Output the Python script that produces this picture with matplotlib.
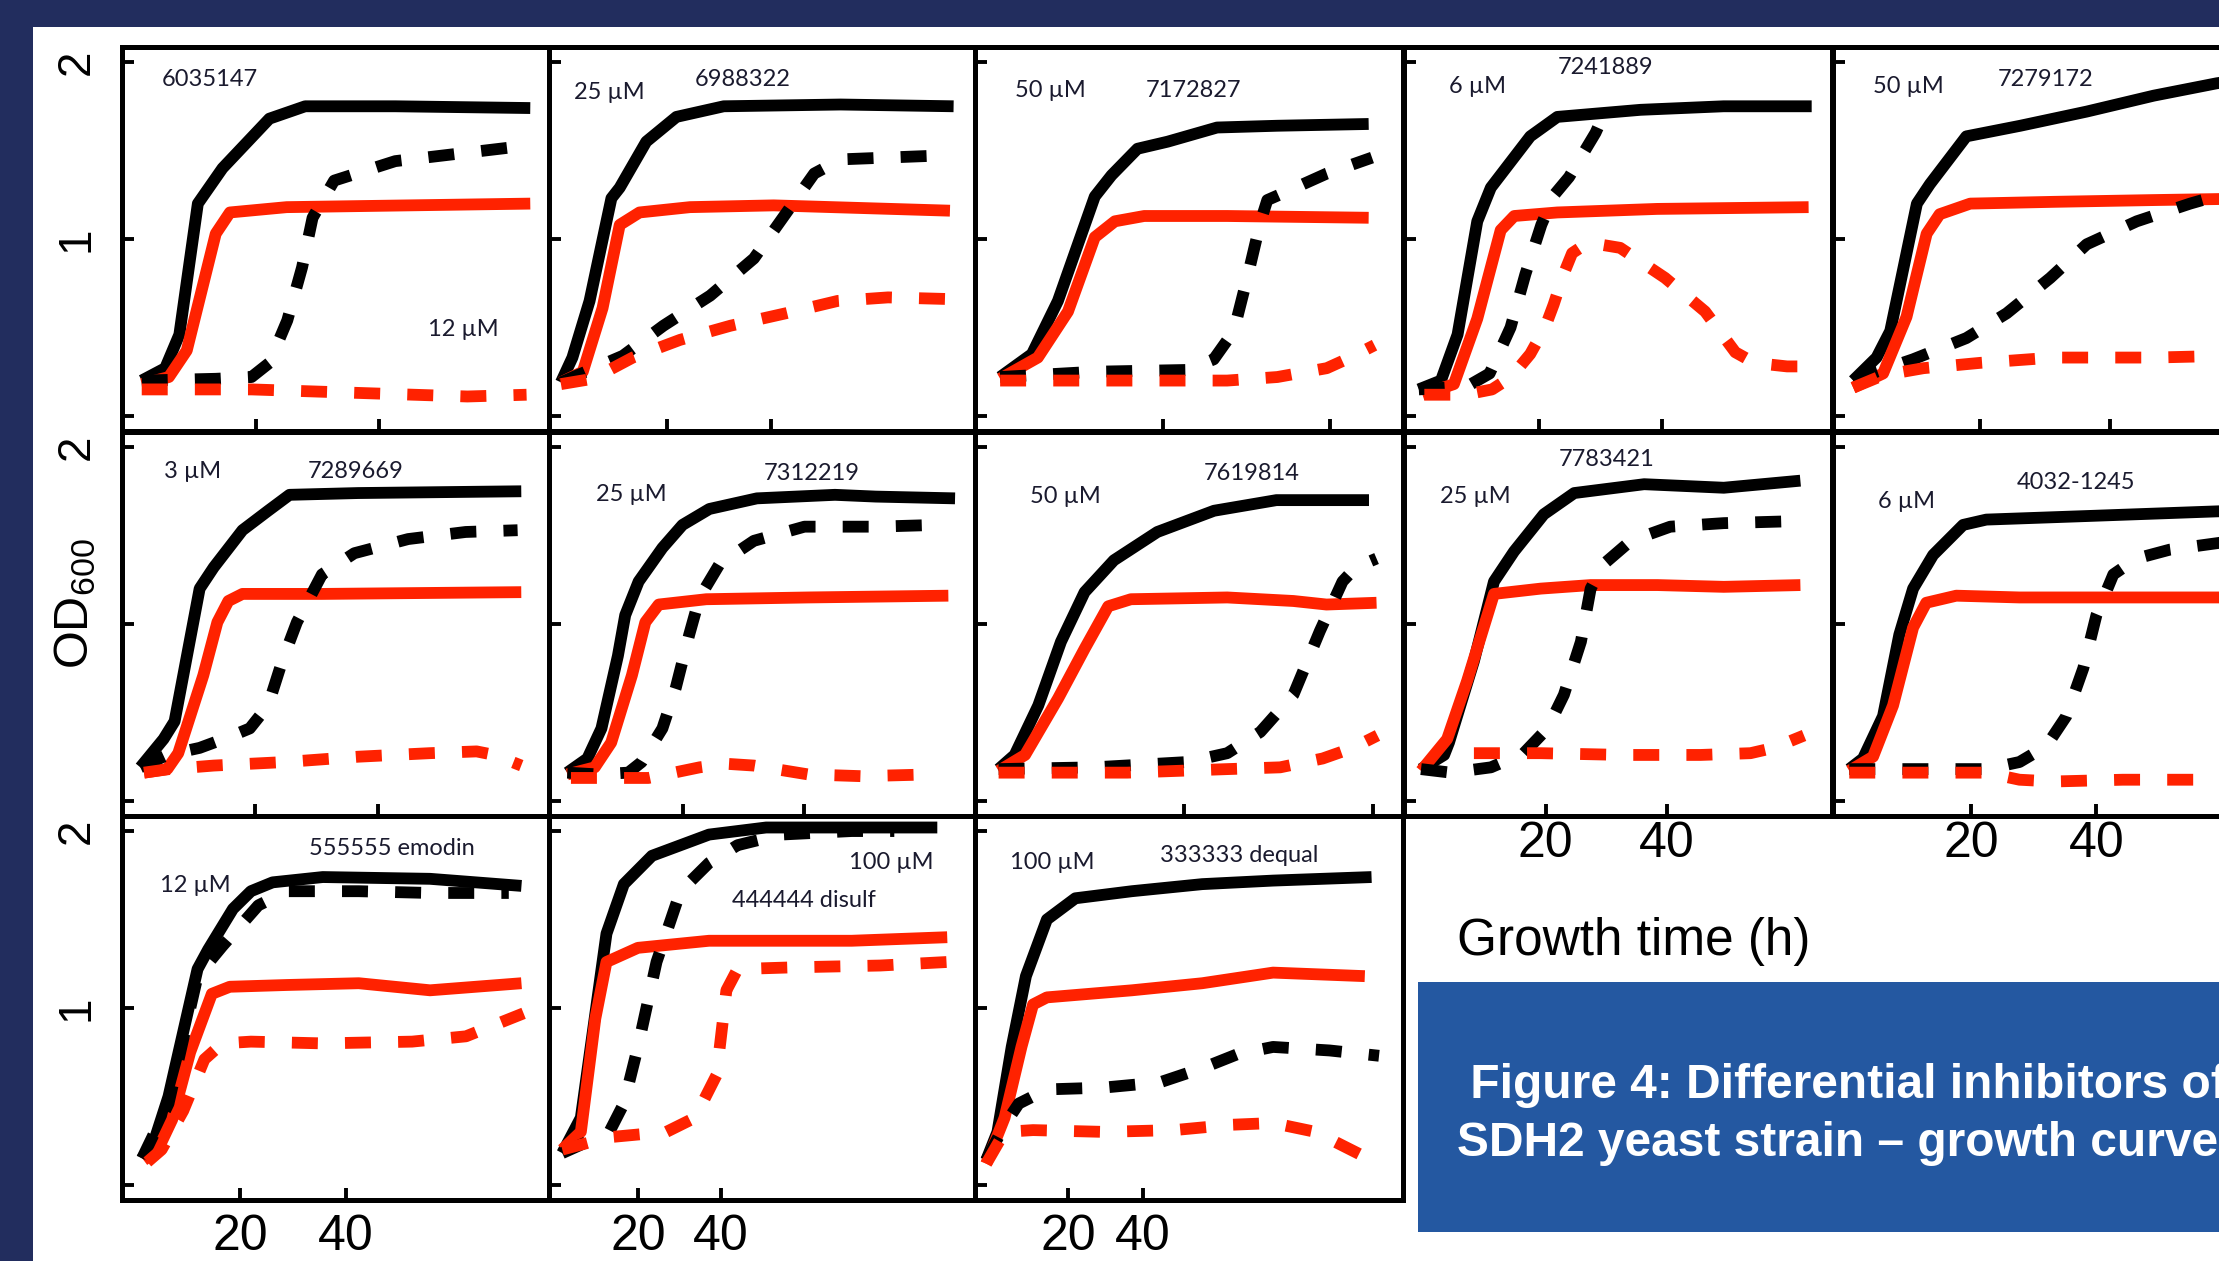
import matplotlib.pyplot as plt
from matplotlib.patches import Rectangle

plt.rcParams["font.family"] = ["Liberation Sans", "DejaVu Sans"]
plt.rcParams["mathtext.default"] = "regular"

NAVY = "#222d5e"
BLUE = "#2458a1"
RED = "#ff2200"
INK = "#1a1a2e"

# ---------------- growth curves, (time h, OD600) ----------------
# black solid / red solid = no compound, black dashed / red dashed = with compound

# 6035147
p00_k = [(1.5, .20), (5.3, .27), (7.6, .46), (10.6, 1.20), (14.6, 1.40), (22.2, 1.68), (28, 1.75), (42.6, 1.75), (64.5, 1.74)]
p00_r = [(1.5, .18), (5.9, .22), (8.8, .37), (13.5, 1.03), (15.8, 1.15), (25, 1.18), (64.5, 1.20)]
p00_kd = [(1.5, .20), (13.5, .21), (19.3, .22), (22.2, .30), (25.1, .54), (27.5, .84), (29.2, 1.12), (32.7, 1.33), (42.6, 1.44), (62, 1.52)]
p00_rd = [(1.5, .15), (19.3, .15), (36.8, .13), (54.3, .11), (63.9, .12)]

# 6988322
p01_k = [(-0.3, .19), (1.9, .33), (5.2, .65), (9.4, 1.23), (11, 1.29), (16.1, 1.55), (21.9, 1.69), (31, 1.75), (53.5, 1.76), (75.2, 1.75)]
p01_r = [(-0.3, .19), (3.9, .25), (7.7, .61), (11, 1.08), (14.8, 1.15), (24.5, 1.18), (40.6, 1.19), (74.5, 1.16)]
p01_kd = [(-0.3, .19), (11.6, .34), (19.4, .51), (28.4, .68), (36.8, .89), (42.6, 1.13), (48.4, 1.37), (53.5, 1.45), (71, 1.47)]
p01_rd = [(-0.3, .18), (5.8, .21), (13.5, .33), (22.6, .43), (32.3, .51), (42.9, .58), (52.9, .65), (62.6, .67), (75.2, .66)]

# 7172827
p02_k = [(0.6, .22), (4.4, .35), (7.5, .65), (11.9, 1.24), (13.9, 1.36), (17, 1.51), (20.6, 1.55), (26.5, 1.63), (33.7, 1.64), (44.6, 1.65)]
p02_r = [(0.6, .21), (5.1, .33), (8.7, .59), (11.9, 1.01), (14.3, 1.10), (17.8, 1.13), (27.7, 1.13), (44.6, 1.12)]
p02_kd = [(0.6, .22), (11.9, .25), (23, .26), (26.1, .32), (28.5, .48), (30.1, .78), (31.7, 1.10), (32.5, 1.22), (34.9, 1.27), (39.6, 1.37), (45, 1.46)]
p02_rd = [(0.6, .20), (13.9, .20), (27.7, .20), (33.7, .22), (39.6, .27), (42.4, .33), (45.3, .40)]

# 7241889
p03_k = [(0.5, .15), (4.1, .20), (6.8, .46), (10, 1.10), (12.2, 1.29), (18.6, 1.58), (23, 1.69), (36.5, 1.73), (50, 1.75), (64.3, 1.75)]
p03_r = [(1.1, .12), (6.2, .18), (10, .55), (13.8, 1.05), (16, 1.13), (23, 1.15), (39.2, 1.17), (63.8, 1.18)]
p03_kd = [(0.5, .15), (5, .16), (9, .18), (12, .24), (15.4, .50), (17.8, .80), (20.4, 1.08), (22.5, 1.25), (24.9, 1.35), (29.2, 1.60), (30.5, 1.70)]
p03_rd = [(1.4, .12), (8, .12), (12.4, .15), (15.5, .22), (18.6, .35), (21, .50), (22.4, .63), (24, .80), (25.4, .92), (28, .98),
          (33.2, .95), (40.5, .78), (47, .59), (51.9, .36), (55, .30), (60.3, .28), (62.5, .28)]

# 7279172
p04_k = [(0.5, .20), (4.1, .33), (6.2, .48), (10.3, 1.20), (12.3, 1.31), (17.9, 1.58), (26.2, 1.64), (36.4, 1.72), (46.7, 1.81), (56.4, 1.88), (64, 1.92)]
p04_r = [(0.5, .16), (5.1, .24), (8.7, .56), (11.8, 1.03), (13.8, 1.14), (18.5, 1.20), (31.3, 1.21), (46.7, 1.22), (64, 1.23)]
p04_kd = [(0.5, .20), (4.1, .25), (9.7, .32), (17.9, .44), (24.1, .58), (30.8, .78), (36.4, .97), (44.1, 1.10), (52.3, 1.20), (58, 1.26)]
p04_rd = [(0.5, .16), (5.1, .23), (11.3, .27), (20, .30), (31.3, .33), (46.7, .33), (58, .34)]

# 7289669
p10_k = [(1.2, .19), (5, .35), (6.8, .45), (10.9, 1.20), (13.2, 1.32), (17.9, 1.53), (22.1, 1.64), (25.6, 1.73), (36.8, 1.74), (63.5, 1.75)]
p10_r = [(1.8, .16), (5.6, .18), (7.4, .27), (11.5, .71), (13.8, 1.01), (15.6, 1.13), (17.9, 1.17), (30.9, 1.17), (63.5, 1.18)]
p10_kd = [(1.2, .19), (5.6, .26), (10.9, .30), (15.6, .36), (19.1, .41), (22.1, .54), (24.4, .79), (26.8, 1.01), (30.9, 1.28),
          (36.2, 1.40), (45, 1.48), (54.4, 1.52), (62.9, 1.53)]
p10_rd = [(1.8, .16), (5.9, .18), (13.2, .20), (24.9, .22), (36.8, .25), (48.5, .27), (56.2, .28), (59.1, .26), (63.5, .20)]

# 7312219
p11_k = [(1.1, .16), (4.4, .24), (6.7, .41), (9.4, .82), (10.6, 1.05), (12.8, 1.24), (16.7, 1.43), (20, 1.56), (24.4, 1.65),
         (32.2, 1.71), (45, 1.73), (51.7, 1.72), (64.7, 1.71)]
p11_r = [(1.1, .15), (5.6, .19), (8.3, .33), (11.7, .71), (13.9, 1.01), (16.1, 1.11), (23.9, 1.14), (40.6, 1.15), (63.6, 1.16)]
p11_kd = [(1.1, .16), (6.1, .15), (11.1, .16), (13.3, .22), (16.7, .41), (18.9, .64), (21.1, .94), (22.8, 1.15), (26.1, 1.34),
          (31.7, 1.47), (40, 1.55), (51.7, 1.55), (61.7, 1.56)]
p11_rd = [(1.7, .13), (10, .13), (14.4, .13), (22.8, .19), (27.2, .21), (31.7, .20), (40.6, .15), (49.4, .14), (60.6, .15)]

# 7619814
p12_k = [(0.4, .18), (2.1, .26), (4.6, .54), (7, .90), (9.5, 1.18), (12.6, 1.36), (17.2, 1.52), (23.2, 1.64), (29.8, 1.70), (39.6, 1.70)]
p12_r = [(0.4, .17), (3.2, .26), (6.7, .58), (9.5, .86), (12, 1.10), (14.4, 1.14), (24.6, 1.15), (31.6, 1.13), (35.1, 1.11), (40.4, 1.12)]
p12_kd = [(0.4, .18), (10.5, .19), (20.4, .22), (24.6, .27), (28.1, .39), (31.6, .60), (34.4, .96), (36.8, 1.24), (38.2, 1.32), (40.4, 1.37)]
p12_rd = [(0.4, .16), (14, .16), (24.6, .18), (30.2, .19), (34.7, .24), (37.9, .30), (40.5, .37)]

# 7783421
p13_k = [(-0.5, .18), (3.3, .26), (4.1, .33), (8.2, .79), (11.5, 1.24), (14.8, 1.41), (19.7, 1.62), (24.7, 1.74), (36.2, 1.79),
         (49.3, 1.77), (61.9, 1.81)]
p13_r = [(-0.5, .17), (3.8, .35), (7.1, .68), (11.5, 1.17), (19.2, 1.20), (27.4, 1.22), (38.4, 1.22), (49.3, 1.21), (61.9, 1.22)]
p13_kd = [(-0.5, .18), (4.4, .16), (11, .19), (16.4, .27), (20.3, .41), (23, .60), (25.8, .90), (27.4, 1.20), (29.6, 1.34),
          (34, 1.47), (40.5, 1.55), (49.3, 1.57), (59.7, 1.58)]
p13_rd = [(8.2, .27), (19.2, .27), (32.9, .26), (45.5, .26), (53.7, .27), (57.5, .30), (62.5, .37)]

# 4032-1245
p14_k = [(0.5, .18), (2.7, .24), (5.9, .48), (8.5, .94), (10.7, 1.20), (13.9, 1.39), (18.7, 1.56), (22.4, 1.59), (38.4, 1.61), (62, 1.64)]
p14_r = [(0.5, .17), (4.3, .25), (7.5, .54), (10.7, .98), (12.8, 1.12), (17.6, 1.16), (27.7, 1.15), (49.1, 1.15), (62, 1.15)]
p14_kd = [(0.5, .18), (11.7, .18), (22.4, .18), (27.7, .22), (32, .31), (35.2, .48), (37.9, .75), (40, 1.05), (42.7, 1.28),
          (46.4, 1.37), (51.7, 1.42), (62, 1.47)]
p14_rd = [(0.5, .16), (11.7, .16), (22.4, .16), (27.7, .12), (33.1, .11), (44.2, .12), (62, .12)]

# 555555 emodin
p20_k = [(1.4, .15), (3.7, .25), (6.4, .50), (11.9, 1.22), (13.9, 1.33), (18.6, 1.56), (22, 1.66), (26.1, 1.71), (35.6, 1.74),
         (55.9, 1.73), (73.2, 1.69)]
p20_r = [(1.7, .14), (4.4, .20), (7.1, .37), (10.5, .75), (14.6, 1.08), (18, 1.12), (28.8, 1.13), (42.4, 1.14), (55.9, 1.10), (73.2, 1.14)]
p20_kd = [(1.4, .15), (6.4, .46), (11.9, 1.18), (16.6, 1.35), (23.4, 1.58), (28.8, 1.66), (42.4, 1.66), (55.9, 1.65), (70.8, 1.65)]
p20_rd = [(2.4, .13), (5.1, .20), (9.2, .42), (13.2, .71), (16.6, .80), (22, .81), (35.6, .80), (52.5, .81), (62.7, .84), (73.6, .97)]

# 444444 disulf
p21_k = [(1.7, .18), (6.2, .38), (12.4, 1.42), (16.6, 1.70), (23.4, 1.86), (37.2, 1.98), (51, 2.02), (92.4, 2.02)]
p21_r = [(1.7, .20), (6.2, .30), (9.7, .94), (12.4, 1.26), (20, 1.34), (37.2, 1.38), (71.7, 1.38), (94.8, 1.40)]
p21_kd = [(1.7, .18), (13.1, .30), (16.6, .46), (20, .78), (24.5, 1.26), (30.3, 1.66), (37.2, 1.82), (44.1, 1.92), (54.5, 1.98),
          (71.7, 2.0), (82, 2.0)]
p21_rd = [(1.7, .20), (13.1, .27), (26.9, .30), (33.8, .38), (39, .62), (41.4, 1.10), (44.1, 1.22), (57.9, 1.23), (78.6, 1.24), (94.8, 1.26)]

# 333333 dequal
p22_k = [(-1.9, .14), (1.1, .30), (4.9, .78), (8.7, 1.18), (14.3, 1.50), (21.9, 1.62), (37, 1.66), (55.8, 1.70), (74.7, 1.72), (101, 1.74)]
p22_r = [(-1.9, .12), (3, .38), (7.5, .78), (10.6, 1.02), (14.3, 1.06), (37, 1.10), (55.8, 1.14), (74.7, 1.20), (99.2, 1.18)]
p22_kd = [(-1.9, .14), (3, .34), (6.8, .46), (14.3, .54), (29.4, .55), (44.5, .58), (55.8, .66), (65.3, .74), (74.7, .78),
          (89.8, .76), (103, .73)]
p22_rd = [(-1.9, .12), (3, .30), (10.6, .31), (29.4, .30), (48.3, .31), (63.4, .34), (74.7, .35), (86, .30), (101, .14)]

compounds = ["6035147", "6988322", "7172827", "7241889", "7279172",
             "7289669", "7312219", "7619814", "7783421", "4032-1245",
             "555555 emodin", "444444 disulf", "333333 dequal"]
doses = ["12 µM", "25 µM", "50 µM", "6 µM", "50 µM",
         "3 µM", "25 µM", "50 µM", "25 µM", "6 µM",
         "12 µM", "100 µM", "100 µM"]

curves = [
    (p00_k, p00_r, p00_kd, p00_rd), (p01_k, p01_r, p01_kd, p01_rd), (p02_k, p02_r, p02_kd, p02_rd),
    (p03_k, p03_r, p03_kd, p03_rd), (p04_k, p04_r, p04_kd, p04_rd),
    (p10_k, p10_r, p10_kd, p10_rd), (p11_k, p11_r, p11_kd, p11_rd), (p12_k, p12_r, p12_kd, p12_rd),
    (p13_k, p13_r, p13_kd, p13_rd), (p14_k, p14_r, p14_kd, p14_rd),
    (p20_k, p20_r, p20_kd, p20_rd), (p21_k, p21_r, p21_kd, p21_rd), (p22_k, p22_r, p22_kd, p22_rd),
]

# ---------------- layout ----------------
# each panel has its own time axis
xlims = [(-1.7, 67.7), (-2.6, 79.7), (-2.4, 48.7), (-1.9, 67.6), (-2.6, 63.2),
         (-1.8, 68.2), (-1.9, 68.3), (-2.1, 43.2), (-3.3, 67.1), (-2.1, 66.3),
         (-2.4, 78.6), (-1.5, 102), (-4.9, 109.4)]
grid_pos = [(0, 0), (0, 1), (0, 2), (0, 3), (0, 4),
            (1, 0), (1, 1), (1, 2), (1, 3), (1, 4),
            (2, 0), (2, 1), (2, 2)]
# where the compound name / dose go in each panel (data units)
name_xy = [(4.7, 1.90), (25.5, 1.90), (18, 1.84), (23, 1.97), (22.8, 1.90),
           (28.5, 1.86), (33.3, 1.85), (22.1, 1.85), (22.2, 1.93), (27.2, 1.80),
           (32.9, 1.90), (42.8, 1.61), (44.5, 1.86)]
dose_xy = [(47.9, 0.49), (2.3, 1.83), (2.4, 1.84), (5.4, 1.86), (3.6, 1.86),
           (5, 1.86), (5.8, 1.73), (3.7, 1.72), (2.7, 1.72), (5.1, 1.69),
           (4.7, 1.69), (71, 1.82), (4.5, 1.82)]
labelled_x = {(2, 0), (2, 1), (2, 2), (1, 3), (1, 4)}
ylabels_by_row = [["", "1", "2"], ["", "", "2"], ["", "1", "2"]]

W, H = 2219, 1261
col_px = [122, 549, 975, 1404, 1833]
row_px = [47, 432, 816]
pw, ph = 428, 384

fig = plt.figure(figsize=(W / 100, H / 100), dpi=100)
fig.patch.set_facecolor(NAVY)
fig.patches.append(Rectangle((33 / W, 0), 1 - 33 / W, 1234 / H, transform=fig.transFigure,
                             facecolor="white", edgecolor="none", zorder=-5))

styles = [dict(color="black", ls="-"), dict(color=RED, ls="-"),
          dict(color="black", ls=(0, (2.2, 2.3))), dict(color=RED, ls=(0, (2.2, 2.3)))]

for i, (r, c) in enumerate(grid_pos):
    ax = fig.add_axes([col_px[c] / W, 1 - (row_px[r] + ph) / H, pw / W, ph / H])
    for pts, st in zip(curves[i], styles):
        t = [p[0] for p in pts]
        od = [p[1] for p in pts]
        ax.plot(t, od, lw=8.5, solid_joinstyle="round", solid_capstyle="butt",
                dash_capstyle="butt", **st)
    ax.set_xlim(*xlims[i])
    ax.set_ylim(-0.085, 2.085)
    ax.set_xticks([20, 40])
    ax.set_yticks([0, 1, 2])
    ax.tick_params(direction="in", length=8.5, width=2.8, top=False, right=False)
    for s in ax.spines.values():
        s.set_linewidth(3.6)
    if (r, c) in labelled_x:
        ax.set_xticklabels(["20", "40"], fontsize=36)
        ax.tick_params(axis="x", pad=3.5 if r == 1 else 10)
    else:
        ax.set_xticklabels([])
    if c == 0:
        ax.set_yticklabels(ylabels_by_row[r], fontsize=33, rotation=90, va="center")
        ax.tick_params(axis="y", pad=17)
    else:
        ax.set_yticklabels([])
    tf = dict(fontsize=17, color=INK, family=["Lato", "DejaVu Sans"], ha="left", va="center")
    ax.text(*name_xy[i], compounds[i], **tf)
    ax.text(*dose_xy[i], doses[i], **tf)

fig.text(75 / W, 1 - 604 / H, r"OD$_{600}$", fontsize=35, rotation=90, ha="center", va="center")
fig.text(1457 / W, 1 - 942 / H, "Growth time (h)", fontsize=37, ha="left", va="center")

fig.patches.append(Rectangle((1418 / W, 29 / H), 801 / W, 250 / H, transform=fig.transFigure,
                             facecolor=BLUE, edgecolor="none", zorder=1))
fig.text(1457 / W, 176 / H, " Figure 4: Differential inhibitors of", fontsize=34.5, weight="bold",
         color="white", ha="left", va="center", zorder=2)
fig.text(1457 / W, 118 / H, "SDH2 yeast strain – growth curves", fontsize=34.5, weight="bold",
         color="white", ha="left", va="center", zorder=2)

fig.savefig("out.png", dpi=100, facecolor=fig.get_facecolor())
